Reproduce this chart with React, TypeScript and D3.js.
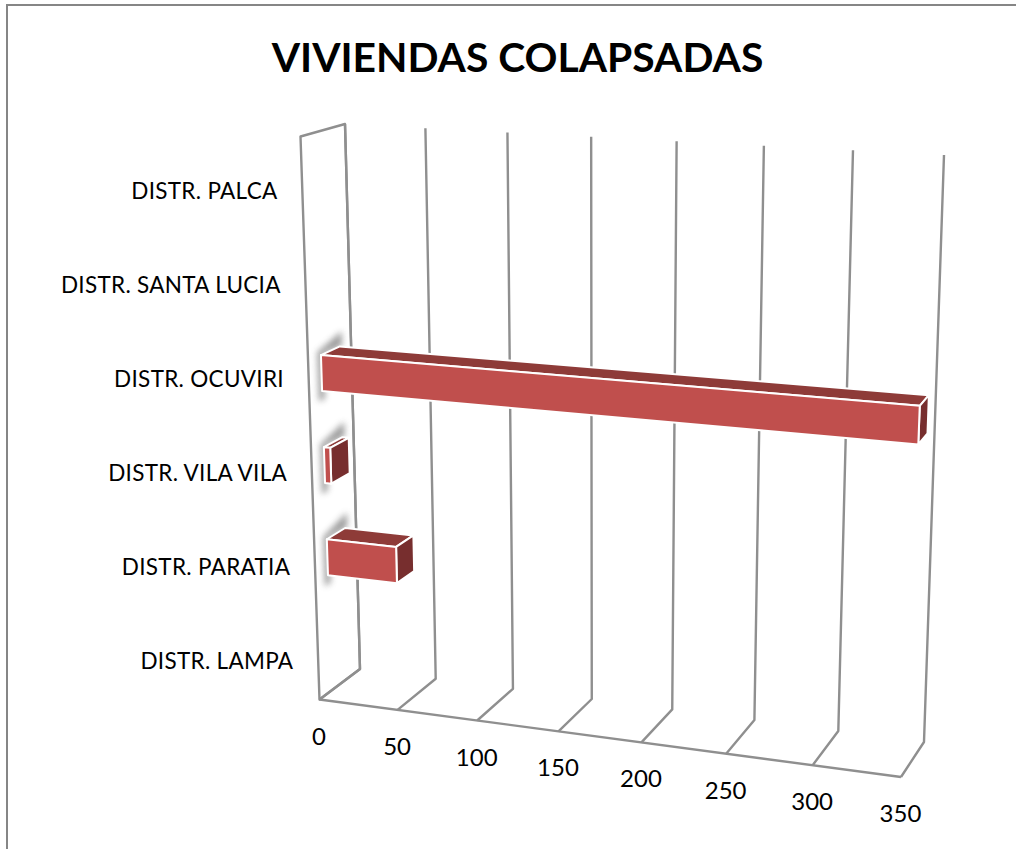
import React from "react";
import * as d3 from "d3";

const title = "VIVIENDAS COLAPSADAS";
const categories = ["DISTR. LAMPA", "DISTR. PARATIA", "DISTR. VILA VILA", "DISTR. OCUVIRI", "DISTR. SANTA LUCIA", "DISTR. PALCA"];
const values = [0, 44, 4, 349, 0, 0];
const ticks = [0, 50, 100, 150, 200, 250, 300, 350];

type Pt = [number, number];
const W = 1016, H = 849;

// Corners of the 3D box in screen space: [value end][depth][height]
const corners = {
  frontBottom: [[319.5, 699.5], [901, 777]] as Pt[],
  frontTop: [[300.5, 136.5], [925, 172]] as Pt[],
  backBottom: [[360, 669], [924, 742]] as Pt[],
  backTop: [[345, 124], [944, 155]] as Pt[],
};
const persp = 0.075;
const valueT = d3.scaleLinear().domain([0, 350]).range([0, 1]);
const fx = (v: number) => { const t = valueT(v); return t / (1 + persp * (1 - t)); };
const mix = (a: Pt, b: Pt, t: number): Pt => [a[0] + (b[0] - a[0]) * t, a[1] + (b[1] - a[1]) * t];
const project = (v: number, h: number, d: number): Pt => {
  const f = fx(v);
  const bot = mix(mix(corners.frontBottom[0], corners.frontBottom[1], f), mix(corners.backBottom[0], corners.backBottom[1], f), d);
  const top = mix(mix(corners.frontTop[0], corners.frontTop[1], f), mix(corners.backTop[0], corners.backTop[1], f), d);
  return mix(bot, top, h);
};

const band = d3.scaleBand<string>().domain(categories).range([-0.009, 0.982]).paddingInner(0.61).paddingOuter(0.305);
const labelBand = d3.scaleBand<string>().domain(categories).range([0, 1]);
const dFront = 0.3, dBack = 0.74;
const poly = d3.line<Pt>().curve(d3.curveLinearClosed);
const seg = d3.line<Pt>();

const GRID = "#8f8f8f";
const FONT = "Lato, Carlito, Calibri, sans-serif";

export default function App() {
  return (
    <svg width={W} height={H} style={{ position: "absolute", left: 0, top: 0, background: "#fff" }} fontFamily={FONT}>
      <defs>
        <filter id="sh" x="-60%" y="-60%" width="220%" height="220%"><feGaussianBlur stdDeviation="3.4" /></filter>
        <filter id="soft" x="-5%" y="-5%" width="110%" height="110%"><feGaussianBlur stdDeviation="0.4" /></filter>
      </defs>
      <path d="M7,849 V5 H1016" fill="none" stroke="#868686" strokeWidth={2} />
      <text x={517.5} y={72} textAnchor="middle" fontSize={40.8} fontWeight={700} fill="#000">{title}</text>

      {/* side wall */}
      <path d={poly([project(0, 0, 0), project(0, 1, 0), project(0, 1, 1), project(0, 0, 1)]) ?? ""} fill="none" stroke={GRID} strokeWidth={2.4} strokeLinejoin="round" />
      {/* floor front */}
      <path d={seg([project(0, 0, 0), project(350, 0, 0)]) ?? ""} fill="none" stroke={GRID} strokeWidth={2.4} />
      {ticks.map((t) => (
        <path key={t} d={seg([project(t, 0, 0), project(t, 0, 1), project(t, 1, 1)]) ?? ""} fill="none" stroke={GRID} strokeWidth={2.4} strokeLinejoin="round" />
      ))}

      {ticks.map((t) => {
        const p = project(t, 0, 0);
        return <text key={t} x={p[0] - 0.5} y={p[1] + 45} textAnchor="middle" fontSize={24} fill="#000">{t}</text>;
      })}

      {categories.map((c) => {
        const h = (labelBand(c) ?? 0) + labelBand.bandwidth() / 2;
        const p = project(0, h, 0);
        return <text key={c} x={p[0] - 24.5} y={p[1] + 16} textAnchor="end" fontSize={22.5} letterSpacing={0.3} fill="#000">{c}</text>;
      })}

      {categories.map((c, i) => {
        const v = values[i];
        if (!v) return null;
        const lo = band(c) ?? 0;
        const hi = lo + band.bandwidth();
        const shadow: Pt[] = [
          project(0, hi + 0.026, dBack + 0.05), project(0, hi + 0.008, dFront - 0.08),
          project(0, lo - 0.016, dFront - 0.08), project(0, lo - 0.016, dFront + 0.06),
          project(0, hi, dFront + 0.06), project(0, hi, dBack + 0.05),
        ];
        const front: Pt[] = [project(0, hi, dFront), project(v, hi, dFront), project(v, lo, dFront), project(0, lo, dFront)];
        const top: Pt[] = [project(0, hi, dFront), project(0, hi, dBack), project(v, hi, dBack), project(v, hi, dFront)];
        const side: Pt[] = [project(v, hi, dFront), project(v, hi, dBack), project(v, lo, dBack), project(v, lo, dFront)];
        return (
          <g key={c}>
            <path d={poly(shadow) ?? ""} fill="#7a7a7a" opacity={0.75} filter="url(#sh)" />
            <g filter="url(#soft)" stroke="#fff" strokeWidth={2} strokeLinejoin="round">
              <path d={poly(top) ?? ""} fill="#8E3B39" />
              <path d={poly(side) ?? ""} fill="#772F2D" />
              <path d={poly(front) ?? ""} fill="#C0504D" />
            </g>
          </g>
        );
      })}
    </svg>
  );
}
